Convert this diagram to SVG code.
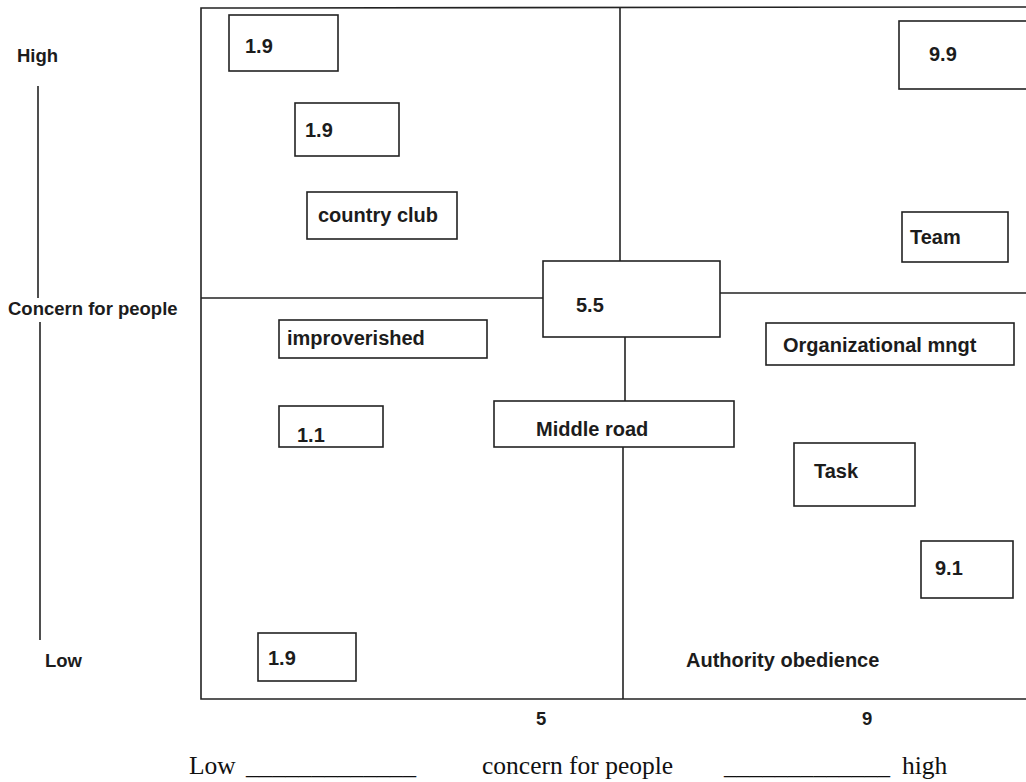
<svg xmlns="http://www.w3.org/2000/svg" width="1026" height="782" viewBox="0 0 1026 782">
<style>
.bx{fill:#fff;stroke:#222;stroke-width:1.6}
.ln{stroke:#222;stroke-width:1.6;fill:none}
.t{font-family:"Liberation Sans",Arial,sans-serif;font-size:20px;font-weight:bold;fill:#1c1c1c}
.a{font-family:"Liberation Sans",Arial,sans-serif;font-size:18.5px;font-weight:bold;fill:#1c1c1c}
.s{font-family:"Liberation Serif","Times New Roman",serif;font-size:25.5px;fill:#111}
</style>
<rect width="1026" height="782" fill="#fff"/>
<g id="axis">
<text class="a" x="17" y="62">High</text>
<line class="ln" x1="38" y1="86" x2="38" y2="298"/>
<text class="a" x="8" y="315">Concern for people</text>
<line class="ln" x1="40" y1="322" x2="40" y2="640"/>
<text class="a" x="45" y="667">Low</text>
<text class="a" x="536" y="725">5</text>
<text class="a" x="862" y="725">9</text>
<text class="s" x="189" y="774">Low</text>
<text class="s" x="246" y="774" textLength="170" lengthAdjust="spacingAndGlyphs">_____________</text>
<text class="s" x="482" y="774">concern for people</text>
<text class="s" x="724" y="774" textLength="166" lengthAdjust="spacingAndGlyphs">_____________</text>
<text class="s" x="902" y="774">high</text>
</g>
<g id="connectors">
<polyline class="ln" points="1026,7 201,8 201,699 1026,699"/>
<line class="ln" x1="620" y1="8" x2="620" y2="261"/>
<line class="ln" x1="201" y1="298" x2="543" y2="298"/>
<line class="ln" x1="720" y1="293" x2="1026" y2="293"/>
<line class="ln" x1="625" y1="337" x2="625" y2="401"/>
<line class="ln" x1="623" y1="447" x2="623" y2="699"/>
</g>
<g id="n19a"><rect class="bx" x="229" y="15" width="109" height="56"/><text class="t" x="245" y="53">1.9</text></g>
<g id="n19b"><rect class="bx" x="295" y="103" width="104" height="53"/><text class="t" x="305" y="137">1.9</text></g>
<g id="countryclub"><rect class="bx" x="307" y="192" width="150" height="47"/><text class="t" x="318" y="222">country club</text></g>
<g id="n99"><rect class="bx" x="899" y="21" width="130" height="68"/><text class="t" x="929" y="61">9.9</text></g>
<g id="team"><rect class="bx" x="902" y="212" width="106" height="50"/><text class="t" x="910" y="244">Team</text></g>
<g id="n55"><rect class="bx" x="543" y="261" width="177" height="76"/><text class="t" x="576" y="312">5.5</text></g>
<g id="improverished"><rect class="bx" x="279" y="320" width="208" height="38"/><text class="t" x="287" y="345">improverished</text></g>
<g id="orgmngt"><rect class="bx" x="766" y="323" width="248" height="42"/><text class="t" x="783" y="352">Organizational mngt</text></g>
<g id="n11"><rect class="bx" x="279" y="406" width="104" height="41"/><text class="t" x="297" y="442">1.1</text></g>
<g id="middleroad"><rect class="bx" x="494" y="401" width="240" height="46"/><text class="t" x="536" y="436">Middle road</text></g>
<g id="task"><rect class="bx" x="794" y="443" width="121" height="63"/><text class="t" x="814" y="478">Task</text></g>
<g id="n91"><rect class="bx" x="921" y="541" width="92" height="57"/><text class="t" x="935" y="575">9.1</text></g>
<g id="n19c"><rect class="bx" x="258" y="633" width="98" height="48"/><text class="t" x="268" y="665">1.9</text></g>
<g id="authority"><text class="t" x="686" y="667">Authority obedience</text></g>
</svg>
